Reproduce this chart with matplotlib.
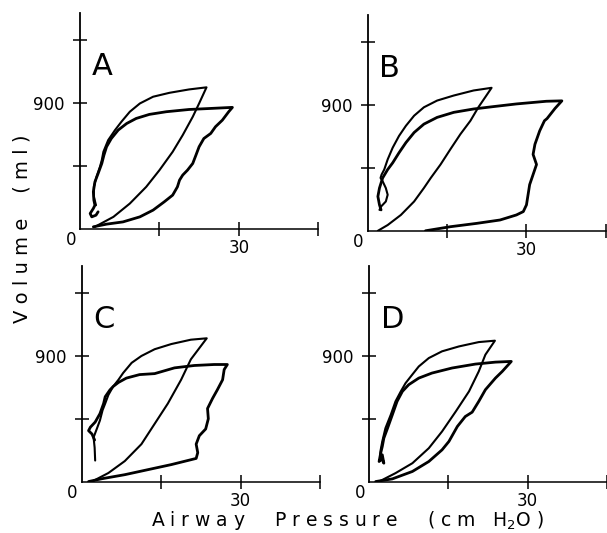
import matplotlib
matplotlib.use("Agg")
import matplotlib.pyplot as plt

# pressure (cm H2O) / volume (ml) loops
a_thin_p = [2.8, 6.3, 9.4, 12.5, 15.0, 17.5, 19.4, 21.3, 22.5, 23.9, 20.6, 16.9, 13.8, 11.3, 9.4, 7.8, 6.6, 5.3, 4.4, 4.1, 3.75, 3.1, 2.6, 2.6, 3.0]
a_thin_v = [17, 88, 183, 302, 421, 552, 671, 802, 897, 1012, 997, 973, 945, 897, 838, 766, 707, 635, 552, 493, 445, 374, 302, 231, 171]
a_thick_p = [2.5, 5.0, 8.1, 11.3, 13.8, 15.9, 17.5, 18.4, 18.8, 19.4, 20.3, 21.3, 21.9, 22.5, 23.4, 24.7, 25.6, 26.9, 28.1, 28.8,
             25.0, 20.6, 16.3, 13.1, 10.6, 8.8, 7.2, 5.9, 5.0, 4.5, 4.1, 3.4, 2.8, 2.5, 2.6, 2.8, 2.5, 1.9, 2.2, 3.0, 3.4]
a_thick_v = [17, 36, 52, 88, 136, 195, 243, 302, 350, 386, 421, 469, 528, 588, 647, 683, 731, 778, 838, 869,
             862, 854, 838, 819, 790, 754, 707, 647, 588, 528, 469, 397, 338, 267, 207, 171, 148, 112, 88, 100, 124]

b_thin_p = [1.9, 3.75, 6.25, 8.75, 10.6, 11.9, 13.75, 15.6, 17.5, 19.4, 20.9, 22.2, 23.4, 20.0, 16.25, 13.1, 10.6, 8.75, 7.2, 5.9, 4.7,
            3.75, 3.1, 2.6, 2.4, 2.8, 3.4, 3.75, 3.4, 2.5, 2.2]
b_thin_v = [0, 41, 113, 209, 305, 377, 473, 581, 689, 785, 881, 953, 1020, 1001, 965, 929, 881, 821, 749, 677, 593,
            509, 437, 401, 377, 353, 305, 257, 209, 173, 149]
b_thick_p = [10.9, 15.6, 20.6, 25.0, 28.1, 29.4, 30.0, 30.3, 30.6, 31.25, 31.9, 31.25, 31.6, 32.5, 33.4, 33.9, 35.4, 36.7,
             33.75, 28.1, 23.75, 20.0, 16.25, 13.1, 10.6, 8.75, 7.2, 5.9, 4.7, 3.75, 2.8, 2.2, 1.9, 2.2, 2.5]
b_thick_v = [0, 29, 53, 77, 113, 137, 185, 257, 329, 401, 473, 545, 617, 713, 785, 801, 873, 927,
             924, 905, 886, 869, 845, 809, 761, 701, 629, 557, 485, 437, 377, 305, 245, 185, 149]

c_thin_p = [1.9, 5.0, 8.1, 11.25, 13.75, 16.25, 18.75, 20.6, 23.6, 20.6, 16.9, 13.75, 11.25, 9.4, 7.8, 6.9, 5.9, 5.0, 4.4, 3.9,
            3.4, 2.8, 2.2, 2.4, 2.5]
c_thin_v = [2, 63, 148, 269, 414, 559, 728, 874, 1024, 1014, 983, 946, 898, 849, 777, 728, 680, 620, 559, 511,
            438, 377, 317, 244, 152]
c_thick_p = [1.25, 3.75, 8.1, 12.5, 16.9, 21.6, 21.9, 21.6, 22.2, 23.4, 23.9, 23.75, 24.7, 25.6, 26.6, 26.9, 27.5,
             25.0, 21.25, 17.5, 13.75, 10.9, 8.4, 6.9, 5.9, 5.3, 4.4, 4.1, 3.4, 2.5, 1.6, 1.25, 1.9, 2.4]
c_thick_v = [2, 22, 51, 87, 123, 167, 208, 269, 329, 377, 450, 523, 595, 656, 728, 801, 837,
             837, 830, 813, 772, 765, 740, 709, 680, 656, 607, 559, 486, 426, 390, 365, 341, 298]

d_thin_p = [1.9, 5.0, 8.2, 11.3, 13.8, 16.4, 18.9, 20.75, 22.0, 23.8, 20.75, 17.0, 13.8, 11.3, 9.4, 7.9, 6.9, 6.0, 5.0,
            4.1, 3.1, 2.5, 2.2, 2.1]
d_thin_v = [2, 62, 133, 240, 359, 502, 645, 788, 907, 1007, 997, 966, 931, 883, 823, 752, 704, 645, 574,
            478, 383, 288, 228, 193]
d_thick_p = [1.25, 4.4, 8.2, 11.3, 13.8, 15.1, 16.7, 18.2, 19.5, 20.75, 22.0, 23.9, 25.2, 26.9,
             23.9, 20.1, 15.7, 11.9, 9.4, 7.5, 6.3, 5.3, 4.4, 3.5, 2.8, 2.5, 2.2, 1.9, 2.4, 2.8, 2.5]
d_thick_v = [2, 21, 74, 145, 228, 288, 395, 466, 497, 574, 657, 740, 788, 859,
             854, 840, 812, 776, 740, 693, 645, 574, 478, 383, 312, 252, 205, 145, 164, 133, 193]

PANELS = ["A", "B", "C", "D"]
X_TICKS = [15, 30, 45]
X_LABELS = ["", "30", ""]
Y_TICKS = [450, 900, 1350]
Y_LABELS = ["", "900", ""]

loops = {
    "A": (a_thin_p, a_thin_v, a_thick_p, a_thick_v),
    "B": (b_thin_p, b_thin_v, b_thick_p, b_thick_v),
    "C": (c_thin_p, c_thin_v, c_thick_p, c_thick_v),
    "D": (d_thin_p, d_thin_v, d_thick_p, d_thick_v),
}

# axes boxes in figure fractions (left, bottom, width, height)
boxes = {
    "A": [0.132, 0.570, 0.392, 0.405],
    "B": [0.606, 0.567, 0.392, 0.405],
    "C": [0.135, 0.096, 0.392, 0.405],
    "D": [0.608, 0.096, 0.392, 0.405],
}

fig = plt.figure(figsize=(6.07, 5.33), dpi=100)

for name in PANELS:
    ax = fig.add_axes(boxes[name])
    thin_p, thin_v, thick_p, thick_v = loops[name]
    ax.plot(thin_p, thin_v, color="black", lw=1.5, solid_joinstyle="round", solid_capstyle="round")
    ax.plot(thick_p, thick_v, color="black", lw=2.0, solid_joinstyle="round", solid_capstyle="round")

    ax.set_xlim(0, 45)
    ax.set_ylim(0, 1540)
    ax.spines["top"].set_visible(False)
    ax.spines["right"].set_visible(False)
    ax.spines["left"].set_linewidth(1.3)
    ax.spines["bottom"].set_linewidth(1.1)
    ax.patch.set_alpha(0)

    ax.set_xticks(X_TICKS)
    ax.set_xticklabels(X_LABELS)
    ax.set_yticks(Y_TICKS)
    ax.set_yticklabels(Y_LABELS)
    ax.tick_params(axis="both", direction="inout", length=10, width=1.1, labelsize=12)
    ax.tick_params(axis="x", pad=2)
    ax.tick_params(axis="y", pad=6)

    ax.annotate("0", xy=(0, 0), xytext=(-3, -8), textcoords="offset points",
                ha="right", va="center", fontsize=12)
    ax.text(2.2, 1100, name, fontsize=22, ha="left", va="baseline")

fig.text(0.036, 0.57, "V o l u m e    ( m l )", rotation=90,
         ha="center", va="center", fontsize=14)
fig.text(0.572, 0.024, "A i r w a y     P r e s s u r e     ( c m   H$_2$O )",
         ha="center", va="center", fontsize=13.5)

fig.savefig("out.png", dpi=100)
